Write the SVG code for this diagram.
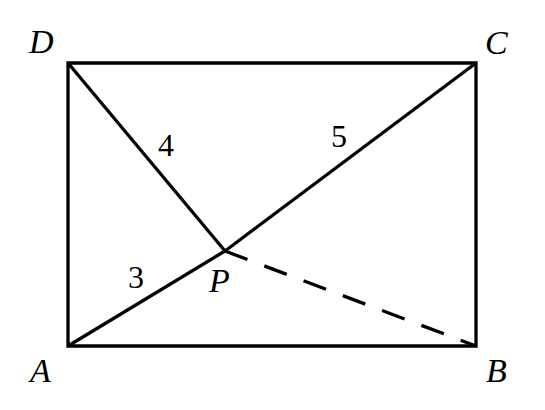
<svg xmlns="http://www.w3.org/2000/svg" width="545" height="410" viewBox="0 0 545 410">
<style>
.ln{stroke:#000;stroke-width:3.3;fill:none;stroke-linejoin:miter}
.dash{stroke-dasharray:24 18}
.pt{font-family:"Liberation Serif","DejaVu Serif",serif;font-style:italic;font-size:34px;fill:#000}
.num{font-family:"Liberation Serif","DejaVu Serif",serif;font-size:32px;fill:#000;text-anchor:middle}
</style>
<rect width="545" height="410" fill="#fff"/>
<g id="connectors">
<polygon class="ln" points="68,63 476,63 476,346 68,346"/>
<line class="ln" x1="68" y1="346" x2="225" y2="251"/>
<line class="ln" x1="225" y1="251" x2="476" y2="63"/>
<line class="ln" x1="68" y1="63" x2="225" y2="251"/>
<line class="ln dash" x1="225" y1="251" x2="476" y2="346"/>
</g>
<g id="A"><text class="pt" x="30" y="382">A</text></g>
<g id="B"><text class="pt" x="486" y="382">B</text></g>
<g id="C"><text class="pt" x="485" y="54">C</text></g>
<g id="D"><text class="pt" x="29" y="53">D</text></g>
<g id="P"><text class="pt" x="209" y="292">P</text></g>
<g id="labels">
<text class="num" x="166" y="156">4</text>
<text class="num" x="339" y="147">5</text>
<text class="num" x="136" y="288">3</text>
</g>
</svg>
